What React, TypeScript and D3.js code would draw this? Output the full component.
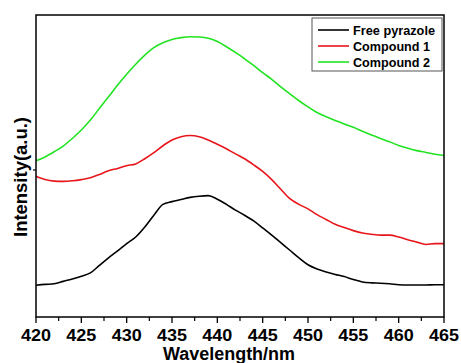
import React from "react";
import * as d3 from "d3";

const wavelengths = [420,421,422,423,424,425,426,427,428,429,430,431,432,433,434,435,436,437,438,439,440,441,442,443,444,445,446,447,448,449,450,451,452,453,454,455,456,457,458,459,460,461,462,463,464,465];
const freePyrazole = [10.5,10.8,11.0,11.8,12.6,13.5,14.6,17.1,19.6,21.9,24.3,26.5,29.8,33.7,37.3,38.2,38.9,39.6,40.0,40.2,39.0,37.3,35.4,33.7,31.8,29.5,27.1,24.6,22.1,19.6,17.3,15.9,14.9,14.1,13.4,12.4,11.6,11.3,11.2,11.0,10.7,10.6,10.6,10.6,10.7,10.7];
const compound1 = [46.6,45.5,45.0,44.9,45.1,45.5,46.1,47.2,48.4,49.2,50.1,50.7,52.4,54.4,56.7,58.6,59.7,60.1,59.7,58.6,57.2,55.7,54.0,52.4,50.4,48.2,45.5,42.3,39.2,37.3,35.8,33.9,32.3,30.7,29.6,28.6,27.8,27.4,27.1,27.1,26.5,25.6,24.8,24.0,24.3,24.3];
const compound2 = [51.7,53.0,54.7,56.6,59.1,61.9,65.2,69.1,72.9,76.8,80.4,83.7,86.7,89.2,90.8,91.9,92.5,92.8,92.7,92.3,91.2,89.5,87.6,85.5,83.3,80.9,78.7,76.2,73.9,71.6,69.6,67.7,66.3,65.1,63.9,62.8,61.5,60.3,59.1,58.0,56.8,55.9,55.1,54.5,53.9,53.5];
const seriesNames = ["Free pyrazole", "Compound 1", "Compound 2"];
const seriesColors = ["#000000", "#e8151b", "#22e322"];
const xTicks = [420,425,430,435,440,445,450,455,460,465];
const xMinorTicks = [422.5,427.5,432.5,437.5,442.5,447.5,452.5,457.5,462.5];

export default function App() {
  const W = 461, H = 363;
  const L = 36, R = 444, T = 15, B = 317;
  const x = d3.scaleLinear().domain([420, 465]).range([L, R]);
  const y = d3.scaleLinear().domain([0, 100]).range([B, T]);
  const line = d3.line<number>()
    .x((_, i) => x(wavelengths[i]))
    .y((d) => y(d))
    .curve(d3.curveMonotoneX);
  const series = [freePyrazole, compound1, compound2];
  const font = "'Liberation Sans', Arial, sans-serif";
  const legendRows = [30, 46, 62];
  const legendLens = [82, 77, 77];
  return (
    <svg width={W} height={H} style={{ position: "absolute", left: 0, top: 0, display: "block" }} fontFamily={font}>
      <rect x={0} y={0} width={W} height={H} fill="#fff" />
      {series.map((s, i) => (
        <path key={i} d={line(s) || ""} fill="none" stroke={seriesColors[i]} strokeWidth={1.6} />
      ))}
      <rect x={L} y={T} width={R - L} height={B - T} fill="none" stroke="#000" strokeWidth={1.5} />
      {xTicks.map((t) => (
        <g key={t}>
          <line x1={x(t)} x2={x(t)} y1={B} y2={B + 6} stroke="#000" strokeWidth={1.3} />
          <text x={x(t) - 15} y={341} fontSize={16} fontWeight="bold" textLength={30} lengthAdjust="spacingAndGlyphs">{t}</text>
        </g>
      ))}
      {xMinorTicks.map((t) => (
        <line key={t} x1={x(t)} x2={x(t)} y1={B} y2={B + 4} stroke="#000" strokeWidth={1.2} />
      ))}
      <line x1={L - 3} x2={L} y1={170} y2={170} stroke="#000" strokeWidth={1.2} />
      <text x={163} y={360} fontSize={18} fontWeight="bold" textLength={132} lengthAdjust="spacingAndGlyphs">Wavelength/nm</text>
      <text transform={`translate(27,237) rotate(-90)`} fontSize={18} fontWeight="bold" textLength={120} lengthAdjust="spacingAndGlyphs">Intensity(a.u.)</text>
      <rect x={312} y={18} width={130} height={53} fill="#fff" stroke="#555" strokeWidth={1} />
      {seriesNames.map((n, i) => (
        <g key={n}>
          <line x1={318} x2={349} y1={legendRows[i]} y2={legendRows[i]} stroke={seriesColors[i]} strokeWidth={1.6} />
          <text x={353} y={legendRows[i] + 4.5} fontSize={12} fontWeight="bold" textLength={legendLens[i]} lengthAdjust="spacingAndGlyphs">{n}</text>
        </g>
      ))}
    </svg>
  );
}
